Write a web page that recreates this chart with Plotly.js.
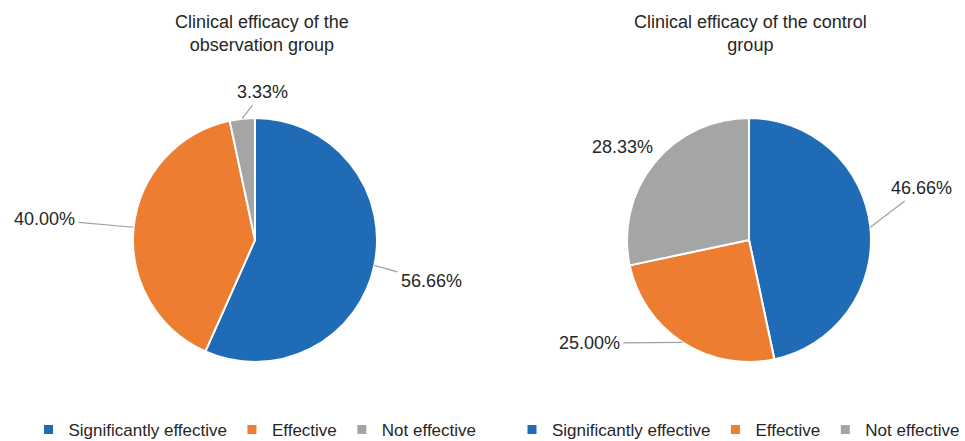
<!DOCTYPE html>
<html>
<head>
<meta charset="utf-8">
<script src="https://cdn.plot.ly/plotly-3.0.1.min.js"></script>
<style>html,body{margin:0;padding:0;background:#fff;}#chart{width:965px;height:441px;}</style>
</head>
<body>
<div id="chart"></div>
<script>
// ---- data ----
const categories = ["Significantly effective", "Effective", "Not effective"];
const observationValues = [56.66, 40.00, 3.33];
const controlValues = [46.66, 25.00, 28.33];
const observationTitle = "Clinical efficacy of the<br>observation group";
const controlTitle = "Clinical efficacy of the control<br>group";

// ---- style ----
const W = 965, H = 441;
const colors = ["#1f6bb5", "#ed7d31", "#a5a5a5"];
const textColor = "#262626";
const fontFamily = "Liberation Sans, Arial, sans-serif";
const domLeft = {x: [133 / W, 377 / W], y: [79 / H, 323 / H]};
const domRight = {x: [627 / W, 871 / W], y: [79 / H, 323 / H]};
const labelOffsetsLeft = [[57, 16], [-89, -8], [20, -27]];
const labelOffsetsRight = [[51, -39], [-93, 1], [-32, -16]];
const arrowShownLeft = [true, true, true];
const arrowShownRight = [true, true, false];

function pieTrace(values, dom) {
  return {
    type: "pie",
    labels: categories,
    values: values,
    domain: dom,
    sort: false,
    direction: "clockwise",
    rotation: 0,
    textinfo: "none",
    hoverinfo: "none",
    marker: {colors: colors, line: {color: "#ffffff", width: 2}},
    showlegend: false
  };
}

// legend-only entries (one legend under each pie)
function legendTraces(legendId) {
  return categories.map((c, i) => ({
    type: "scatter", mode: "markers", x: [null], y: [null],
    name: c, legend: legendId, showlegend: true, hoverinfo: "none",
    marker: {symbol: "square", size: 9, color: colors[i], line: {width: 0}}
  }));
}

function labelAnnotations(values, dom, offsets, arrows) {
  const total = values.reduce((a, b) => a + b, 0);
  const cx = (dom.x[0] + dom.x[1]) / 2;
  const cy = (dom.y[0] + dom.y[1]) / 2;
  const rPx = Math.min((dom.x[1] - dom.x[0]) * W, (dom.y[1] - dom.y[0]) * H) / 2;
  let cum = 0;
  return values.map((v, i) => {
    const frac = (cum + v / 2) / total;
    cum += v;
    const th = 2 * Math.PI * frac;
    const x = cx + rPx * Math.sin(th) / W;
    const y = cy + rPx * Math.cos(th) / H;
    return {
      xref: "paper", yref: "paper", x: x, y: y,
      text: v.toFixed(2) + "%",
      showarrow: true, arrowhead: 0, arrowwidth: 1.2,
      arrowcolor: arrows[i] ? "#a0a0a0" : "rgba(0,0,0,0)",
      standoff: 0, startstandoff: 2,
      ax: offsets[i][0], ay: offsets[i][1],
      font: {family: fontFamily, size: 18, color: textColor}
    };
  });
}

const data = [
  pieTrace(observationValues, domLeft),
  pieTrace(controlValues, domRight)
].concat(legendTraces("legend")).concat(legendTraces("legend2"));

const titleAnns = [
  {xref: "paper", yref: "paper", x: 262 / W, y: 1 - 10 / H, xanchor: "center", yanchor: "top",
   text: observationTitle, showarrow: false, font: {family: fontFamily, size: 18, color: textColor}},
  {xref: "paper", yref: "paper", x: 750 / W, y: 1 - 10 / H, xanchor: "center", yanchor: "top",
   text: controlTitle, showarrow: false, font: {family: fontFamily, size: 18, color: textColor}}
];

const legendStyle = {
  orientation: "h", yanchor: "middle", y: 11 / H,
  font: {family: fontFamily, size: 17, color: textColor},
  itemwidth: 30, bgcolor: "rgba(0,0,0,0)", traceorder: "normal"
};

const layout = {
  width: W, height: H,
  margin: {l: 0, r: 0, t: 0, b: 0, autoexpand: false},
  paper_bgcolor: "#ffffff",
  plot_bgcolor: "rgba(0,0,0,0)",
  xaxis: {visible: false, fixedrange: true},
  yaxis: {visible: false, fixedrange: true},
  showlegend: true,
  legend: Object.assign({}, legendStyle, {x: 255 / W, xanchor: "center"}),
  legend2: Object.assign({}, legendStyle, {x: 1, xanchor: "right"}),
  annotations: titleAnns
    .concat(labelAnnotations(observationValues, domLeft, labelOffsetsLeft, arrowShownLeft))
    .concat(labelAnnotations(controlValues, domRight, labelOffsetsRight, arrowShownRight))
};

Plotly.newPlot("chart", data, layout, {staticPlot: true, displayModeBar: false});
</script>
</body>
</html>
